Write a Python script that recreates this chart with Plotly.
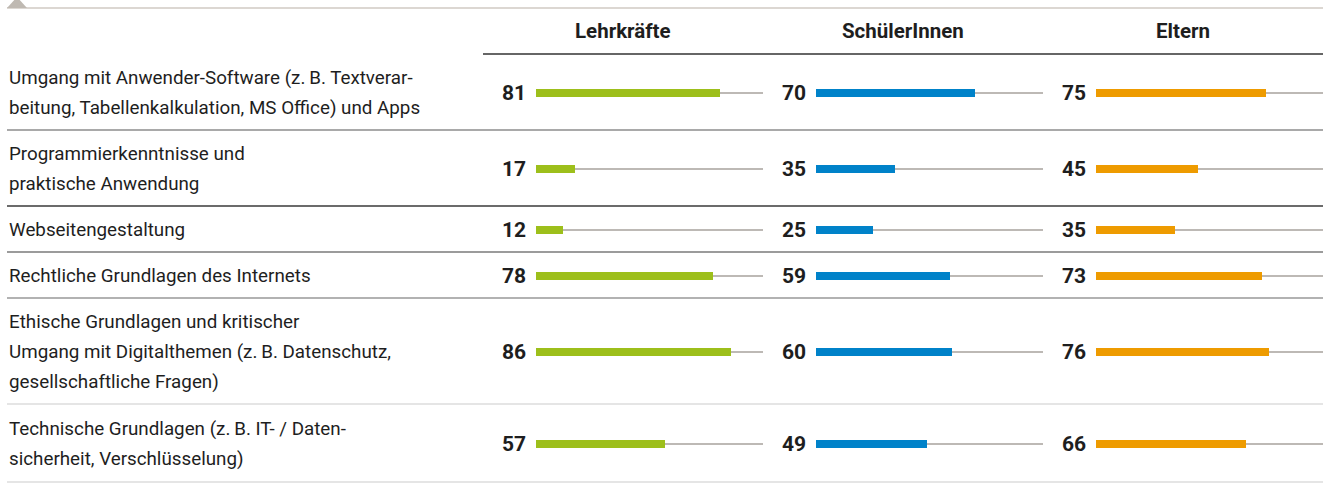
import plotly.graph_objects as go

themen = [
    "Umgang mit Anwender-Software (z.\u2009B. Textverar-<br>beitung, Tabellenkalkulation, MS Office) und Apps",
    "Programmierkenntnisse und<br>praktische Anwendung",
    "Webseitengestaltung",
    "Rechtliche Grundlagen des Internets",
    "Ethische Grundlagen und kritischer<br>Umgang mit Digitalthemen (z.\u2009B. Datenschutz,<br>gesellschaftliche Fragen)",
    "Technische Grundlagen (z.\u2009B. IT- / Daten-<br>sicherheit, Verschlüsselung)",
]
gruppen = ["Lehrkräfte", "SchülerInnen", "Eltern"]
lehrkraefte = [81, 17, 12, 78, 86, 57]
schueler = [70, 35, 25, 59, 60, 49]
eltern = [75, 45, 35, 73, 76, 66]
skala_max = 100

werte = [lehrkraefte, schueler, eltern]
farben = ["#9dbf1b", "#0082c9", "#ee9b00"]
trenn_farben = ["#8c8c8c", "#3a3a3a", "#7a7a7a", "#999999", "#dddddd", "#dddddd"]

W, H = 1328, 484
FONT = "Roboto"
TXT = "#1e1e1e"
ZEILE = 30
spalten_start = [483, 763, 1043]

def px(x):
    return x / W

# Zeilenhoehen aus Anzahl der Textzeilen
zeilen = [t.split("<br>") for t in themen]
grenzen = [54]
for z in zeilen:
    grenzen.append(grenzen[-1] + ZEILE * len(z) + 16)
grenzen[-1] = 482
mitten = [(grenzen[i] + grenzen[i + 1]) / 2 + 1 for i in range(len(themen))]

fig = go.Figure()
annotations = []
shapes = []

for i, (g, w, f) in enumerate(zip(gruppen, werte, farben)):
    ax = "x" if i == 0 else f"x{i + 1}"
    fig.add_trace(go.Bar(x=[skala_max] * len(w), y=mitten, orientation="h", width=1.2,
                         marker=dict(color="#bdb9b5", line=dict(width=0)),
                         xaxis=ax, yaxis="y", hoverinfo="skip", showlegend=False))
    fig.add_trace(go.Bar(x=w, y=mitten, orientation="h", width=8,
                         marker=dict(color=f, line=dict(width=0)),
                         xaxis=ax, yaxis="y", name=g, showlegend=False))
    x0 = spalten_start[i]
    fig.layout[f"xaxis{'' if i == 0 else i + 1}"] = dict(
        domain=[px(x0 + 53), px(x0 + 280)], range=[0, skala_max], anchor="y",
        visible=False, fixedrange=True)
    for v, y in zip(w, mitten):
        annotations.append(dict(x=0, y=y, xref=ax, yref="y", text=f"<b>{v}</b>",
                                showarrow=False, xanchor="right", yanchor="middle",
                                xshift=-8, font=dict(family=FONT, size=21, color=TXT)))
    annotations.append(dict(x=px(x0 + 140), y=31, xref="paper", yref="y", text=f"<b>{g}</b>",
                            showarrow=False, xanchor="center", yanchor="middle",
                            font=dict(family=FONT, size=20.5, color=TXT)))

# Beschriftungen links, jede Zeile einzeln fuer den Zeilenabstand
for z, m in zip(zeilen, mitten):
    n = len(z)
    for k, t in enumerate(z):
        annotations.append(dict(x=px(7), y=m + (k - (n - 1) / 2) * ZEILE, xref="paper", yref="y",
                                text=t, showarrow=False, xanchor="left", yanchor="middle",
                                font=dict(family=FONT, size=18.8, color=TXT)))

# Trennlinien
for gr, c in zip(grenzen[1:], trenn_farben):
    shapes.append(dict(type="line", xref="paper", yref="y", x0=px(7), x1=px(1323), y0=gr, y1=gr,
                       line=dict(color=c, width=1.5)))
shapes.append(dict(type="line", xref="paper", yref="y", x0=px(483), x1=px(1323), y0=grenzen[0], y1=grenzen[0],
                   line=dict(color="#333333", width=1.5)))
shapes.append(dict(type="line", xref="paper", yref="y", x0=px(7), x1=px(1323), y0=8, y1=8,
                   line=dict(color="#dcd7d2", width=2)))
shapes.append(dict(type="path", xref="paper", yref="y",
                   path=f"M {px(7)},8 L {px(17)},-3 L {px(27)},8 Z",
                   fillcolor="#bfb9b2", line=dict(width=0)))

fig.update_layout(
    width=W, height=H, margin=dict(l=0, r=0, t=0, b=0),
    paper_bgcolor="white", plot_bgcolor="white",
    barmode="overlay", bargap=0,
    yaxis=dict(domain=[0, 1], range=[H, 0], visible=False, fixedrange=True),
    annotations=annotations, shapes=shapes,
    font=dict(family=FONT, color=TXT),
)

fig.write_html("out.html", config={"displayModeBar": False},
               post_script="document.body.style.margin='0';document.body.style.overflow='hidden';")
